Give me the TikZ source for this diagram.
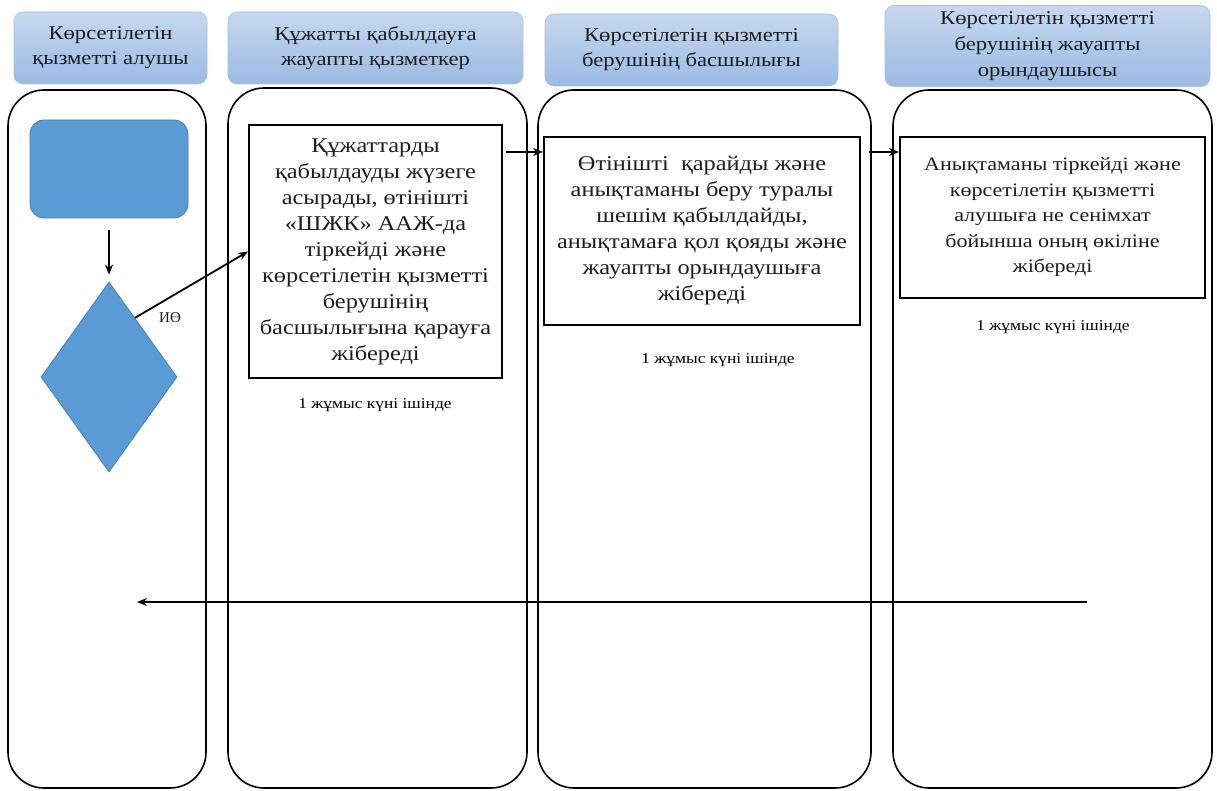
\documentclass[tikz,border=0pt]{standalone}
\usepackage{fontspec}
\setmainfont{Liberation Serif}
\newfontfamily\widefont[FakeStretch=1.16]{Liberation Serif}
\usetikzlibrary{shapes.geometric,arrows.meta,calc}
\definecolor{headtop}{HTML}{C6D8EF}
\definecolor{headbot}{HTML}{9BBAE2}
\definecolor{headedge}{HTML}{A7C1E2}
\definecolor{shapeblue}{HTML}{5B9BD5}
\definecolor{shapeedge}{HTML}{4A7EB0}
\definecolor{txt}{HTML}{1E1E1E}
\begin{document}
\begin{tikzpicture}[x=1pt,y=-1pt,
  head/.style={rectangle,rounded corners=9pt,draw=headedge,line width=0.6pt,
    top color=headtop,bottom color=headbot,inner sep=0pt,align=center,
    text=txt,font=\widefont\fontsize{19.5}{25}\selectfont},
  lane/.style={rectangle,rounded corners=36pt,draw=black,line width=1.6pt,inner sep=0pt},
  stepbox/.style={rectangle,draw=black,line width=2pt,fill=white,inner sep=0pt,align=center,
    text=txt,font=\widefont\fontsize{21}{26}\selectfont},
  small/.style={text=black,font=\widefont\fontsize{15}{17}\selectfont,inner sep=0pt},
  arr/.style={line width=1.8pt,-{Stealth[length=10pt,width=8pt]}},
]
\useasboundingbox (0,0) rectangle (1217,791);
\fill[white] (0,0) rectangle (1217,791);

% headers
\node[head,minimum width=193pt,minimum height=72pt] (h1) at (110.5,48) {Көрсетілетін\\қызметті алушы};
\node[head,minimum width=295pt,minimum height=72pt] (h2) at (375.5,48) {Құжатты қабылдауға\\жауапты қызметкер};
\node[head,minimum width=293pt,minimum height=72pt] (h3) at (691.5,50) {Көрсетілетін қызметті\\берушінің басшылығы};
\node[head,minimum width=325pt,minimum height=81pt,font=\widefont\fontsize{19.5}{26}\selectfont] (h4) at (1047.5,46) {Көрсетілетін қызметті\\берушінің жауапты\\орындаушысы};

% lanes
\node[lane,minimum width=198pt,minimum height=698pt] (l1) at (107,439) {};
\node[lane,minimum width=299pt,minimum height=700pt] (l2) at (377.5,438) {};
\node[lane,minimum width=333pt,minimum height=698pt] (l3) at (704.5,439) {};
\node[lane,minimum width=319pt,minimum height=698pt] (l4) at (1052.5,439) {};

% left lane shapes
\node[rectangle,rounded corners=14pt,fill=shapeblue,draw=shapeedge,line width=0.8pt,
  minimum width=158pt,minimum height=98pt,inner sep=0pt] (start) at (109,169) {};
\node[diamond,fill=shapeblue,draw=shapeedge,line width=0.8pt,
  minimum width=136pt,minimum height=190pt,inner sep=0pt] (d) at (109,377) {};
\coordinate (s1) at ($(start.south)+(0,12)$);
\coordinate (s2) at ($(d.north)+(0,-7)$);
\draw[arr] (s1) -- (s2);

% step boxes
\node[stepbox,minimum width=253pt,minimum height=253pt] (b2) at (375.5,251.5)
 {Құжаттарды\\қабылдауды жүзеге\\асырады, өтінішті\\«ШЖК» ААЖ-да\\тіркейді және\\көрсетілетін қызметті\\берушінің\\басшылығына қарауға\\жібереді};
\node[stepbox,minimum width=316pt,minimum height=188pt] (b3) at (702,231)
 {Өтінішті\ \ қарайды және\\анықтаманы беру туралы\\шешім қабылдайды,\\анықтамаға қол қояды және\\жауапты орындаушыға\\жібереді};
\node[stepbox,minimum width=305pt,minimum height=161pt,font=\widefont\fontsize{19}{25.5}\selectfont] (b4) at (1052.5,217.5)
 {Анықтаманы тіркейді және\\көрсетілетін қызметті\\алушыға не сенімхат\\бойынша оның өкіліне\\жібереді};

% connectors
\coordinate (dout) at ($(d.north)!0.38!(d.east)$);
\draw[arr] (dout) -- (b2.west);
\node[font=\fontsize{15}{17}\selectfont,text=txt] (io) at (170,318) {ИӨ};
\draw[arr] ([xshift=3pt,yshift=-28pt]b2.north east) -- ([yshift=-28pt]b2.north east -| b3.west);
\draw[arr] ([xshift=8pt,yshift=-16pt]b3.north east) -- ([yshift=-16pt]b3.north east -| b4.west);

\coordinate (rs) at (1087,602);
\coordinate (re) at (137,602);
\draw[arr] (rs) -- (re);

% durations
\node[small] (t2) at (375,405) {1 жұмыс күні ішінде};
\node[small] (t3) at (718,360) {1 жұмыс күні ішінде};
\node[small] (t4) at (1053,327) {1 жұмыс күні ішінде};
\end{tikzpicture}
\end{document}
